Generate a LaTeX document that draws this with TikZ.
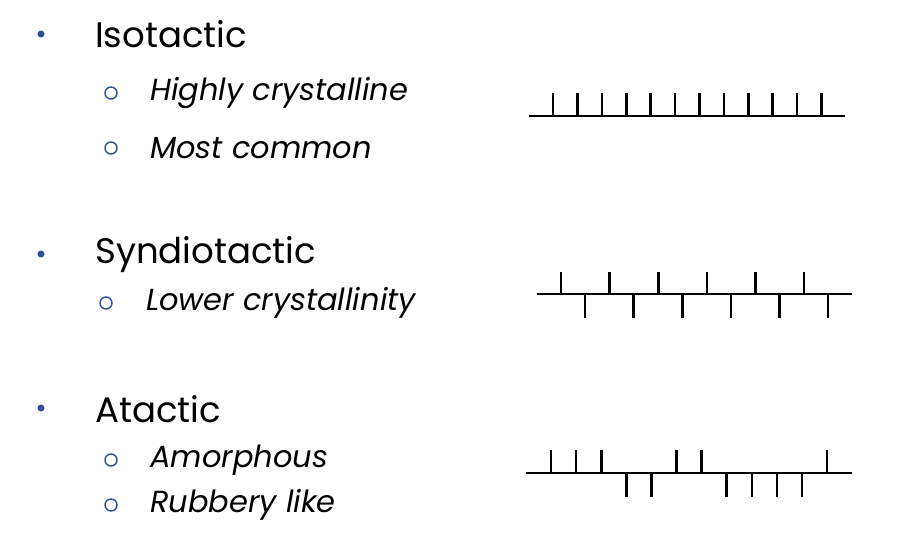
\documentclass[tikz,border=0pt]{standalone}
\usepackage{fontspec}
\setmainfont{Poppins}
\definecolor{bblue}{HTML}{2F4F9A}
\begin{document}
\begin{tikzpicture}[x=1pt,y=-1pt,
  head/.style={anchor=west,font=\fontsize{35.5}{40}\selectfont,inner sep=0},
  sub/.style={anchor=west,font=\fontsize{30.5}{34}\selectfont\itshape,inner sep=0},
  dotb/.style={circle,fill=bblue,inner sep=0,minimum size=7},
  ring/.style={circle,draw=bblue,line width=1.4,inner sep=0,minimum size=12},
  chain/.style={line width=2.6}]
\useasboundingbox (0,0) rectangle (916,541);
\node[dotb] (b1) at (41,34) {};
\node[head] (t1) at (95,34) {Isotactic};
\node[ring] (r1) at (111,93) {};
\node[sub] (s1) at (150,93) {Highly crystalline};
\node[ring] (r2) at (111,148) {};
\node[sub] (s2) at (150,148) {Most common};
\node[dotb] (b2) at (41,254) {};
\node[head] (t2) at (95,255) {Syndiotactic};
\node[ring] (r3) at (106,303) {};
\node[sub] (s3) at (146,303) {Lower crystallinity};
\node[dotb] (b3) at (41,408) {};
\node[head] (t3) at (95,409) {Atactic};
\node[ring] (r4) at (111,460) {};
\node[sub] (s4) at (150,460) {Amorphous};
\node[ring] (r5) at (111,505) {};
\node[sub] (s5) at (150,505) {Rubbery like};
% isotactic
\coordinate (i0) at (529,116); \coordinate (i1) at (845,116);
\draw[chain] (i0) -- (i1);
\foreach \k in {0,...,11} \draw[chain] (553+24.4*\k,116) -- ++(0,-23);
% syndiotactic
\coordinate (y0) at (537,294); \coordinate (y1) at (852,294);
\draw[chain] (y0) -- (y1);
\foreach \k in {0,...,5} {
  \draw[chain] (561+48.6*\k,294) -- ++(0,-22);
  \draw[chain] (585+48.6*\k,294) -- ++(0,24);}
% atactic
\coordinate (a0) at (526,473); \coordinate (a1) at (852,473);
\draw[chain] (a0) -- (a1);
\foreach \k in {0,1,2,5,6,11} \draw[chain] (551+25.1*\k,473) -- ++(0,-23);
\foreach \k in {3,4,7,8,9,10} \draw[chain] (551+25.1*\k,473) -- ++(0,24);
\end{tikzpicture}
\end{document}
